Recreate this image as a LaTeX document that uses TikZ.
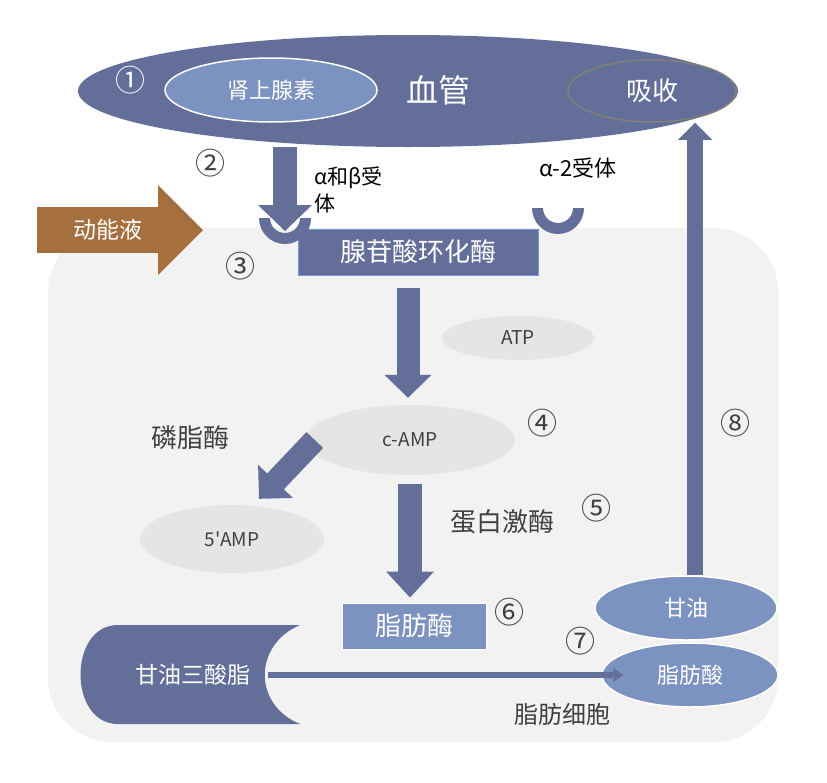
\documentclass[tikz,border=0pt]{standalone}
\usepackage{fontspec}
\setmainfont{Noto Sans CJK SC}
\usetikzlibrary{arrows.meta, shapes.geometric, positioning}
\definecolor{myslate}{RGB}{99,110,153}
\definecolor{mypale}{RGB}{124,146,192}
\definecolor{mycell}{RGB}{242,242,242}
\definecolor{mymol}{RGB}{229,229,229}
\definecolor{mybrown}{RGB}{166,112,62}
\definecolor{mydark}{RGB}{64,64,64}
\definecolor{myrim}{RGB}{130,128,118}
\definecolor{myedge}{RGB}{120,150,220}
\tikzset{
  txt/.style={font=\fontsize{#1}{#1}\selectfont},
  ell/.style={ellipse, inner sep=0pt},
  num/.style={txt=30, text=mydark},
  molecule/.style={ell, fill=mymol, text=mydark, txt=19},
  paleell/.style={ell, fill=mypale, draw=white, line width=1.5pt, text=white},
  fat arrow/.style n args={3}{draw=myslate, line width=#1,
    -{Triangle[width=#2, length=#3, line width=0pt]}},
}

\begin{document}
\begin{tikzpicture}[x=1pt, y=-1pt]
\useasboundingbox (0,0) rectangle (827,782);

% cell
\fill[mycell, rounded corners=64pt] (48,228) rectangle (778,742);

% vessel
\node[ell, fill=myslate, minimum width=660pt, minimum height=112pt] (vessel) at (408,91) {};
\node[paleell, minimum width=212pt, minimum height=64pt, txt=22] (hormone) at (271,90) {肾上腺素};
\node[ell, draw=myrim, line width=1.5pt, minimum width=168pt, minimum height=62pt, txt=26, text=white] (absorb) at (652,91) {吸收};
\node[txt=32, text=white] (vesseltxt) at (438,90) {血管};

% receptors
\coordinate (cupL) at (285,218);
\coordinate (cupR) at (558,208);
\node[fill=myslate, draw=myedge, line width=1pt, minimum width=240pt, minimum height=46pt, txt=26, text=white] (adc) at (418,252) {腺苷酸环化酶};
\foreach \c in {cupL,cupR}{
\begin{scope}
\clip ([xshift=-30pt]\c) rectangle ([shift={(30pt,-30pt)}]\c);
\fill[myslate, even odd rule] (\c) circle[radius=26pt] (\c) circle[radius=15pt];
\end{scope}
}
\draw[fat arrow={24pt}{54pt}{26pt}] (cupL |- vessel.south) -- ([yshift=-13pt]cupL);
\node[anchor=west, align=left, font=\fontsize{21}{27}\selectfont] (abrec) at (311,190) {α和β受\\体};
\node[txt=22] (a2rec) at (578,168) {α-2受体};

% drug
\coordinate (fluidtail) at (37,230);
\coordinate (fluidtip) at (203,230);
\draw[fat arrow={46pt}{90pt}{45pt}, draw=mybrown] (fluidtail) -- (fluidtip);
\node[txt=23, text=white] (fluid) at (108,230) {动能液};

% cAMP cascade
\node[molecule, minimum width=152pt, minimum height=44pt] (atp) at (518,338) {ATP};
\node[molecule, minimum width=210pt, minimum height=70pt] (camp) at (410,440) {c-AMP};
\node[molecule, minimum width=184pt, minimum height=68pt] (amp5) at (232,539) {5\textquotesingle AMP};
\node[fill=mypale, draw=white, line width=1pt, minimum width=144pt, minimum height=46pt, txt=26, text=white] (lipase) at (414,626) {脂肪酶};
\draw[fat arrow={23pt}{47pt}{23pt}] ([shift={(-10pt,-12pt)}]adc.south) -- ([shift={(-2pt,7pt)}]camp.north);
\draw[fat arrow={23pt}{48pt}{24pt}] ([xshift=10pt]camp.west) -- ([shift={(27pt,6pt)}]amp5.north);
\draw[fat arrow={24pt}{48pt}{26pt}] ([yshift=-9pt]camp.south) -- ([yshift=5pt]camp.south |- lipase.north);
\node[txt=26, text=mydark] (phos) at (190,438) {磷脂酶};
\node[txt=26, text=mydark] (pk) at (502,522) {蛋白激酶};

% triglyceride
\fill[myslate] (118,625) -- (300,625) .. controls (253,645) and (253,705) .. (300,724)
  -- (118,724) .. controls (68,724) and (68,625) .. (118,625) -- cycle;
\node[txt=23, text=white] (tg) at (193,675) {甘油三酸脂};
\node[paleell, minimum width=182pt, minimum height=64pt, txt=22] (glycerol) at (686,608) {甘油};
\node[paleell, minimum width=176pt, minimum height=64pt, txt=22] (fa) at (690,675) {脂肪酸};
\draw[draw=myslate, line width=6pt, -{Triangle[width=14pt, length=10pt, line width=0pt]}] ([xshift=14pt]tg.east) -- ([xshift=22pt]fa.west);
\draw[fat arrow={16pt}{34pt}{17pt}] ([xshift=9pt]glycerol.north) -- ([xshift=9pt]glycerol.north |- absorb.south);
\node[txt=24, text=mydark] (cell) at (562,714) {脂肪细胞};

% steps
\node[num, text=white] (n1) at (130,80) {①};
\node[num] (n2) at (210,163) {②};
\node[num] (n3) at (240,266) {③};
\node[num] (n4) at (542,423) {④};
\node[num] (n5) at (596,508) {⑤};
\node[num] (n6) at (509,612) {⑥};
\node[num] (n7) at (580,641) {⑦};
\node[num] (n8) at (735,423) {⑧};
\end{tikzpicture}
\end{document}
